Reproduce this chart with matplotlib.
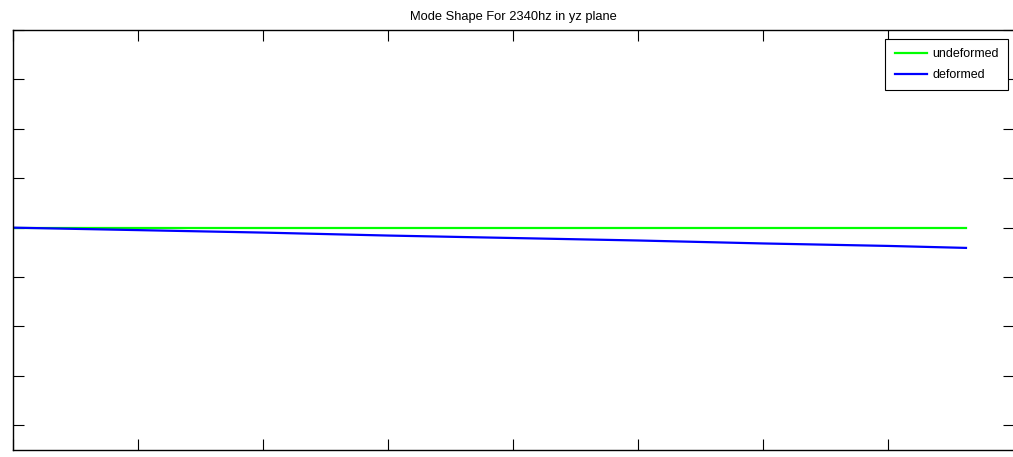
import matplotlib
matplotlib.use("Agg")
import matplotlib.pyplot as plt
import numpy as np

# beam positions along the span
x = np.array([0, 1, 2, 3, 4, 5, 6, 7, 7.62])

# undeformed shape
y_undeformed = np.array([0, 0, 0, 0, 0, 0, 0, 0, 0])

# deformed shape (yz plane, 2340 hz)
y_deformed = np.array([0, -0.05, -0.1, -0.16, -0.21, -0.26, -0.32, -0.37, -0.41])

plt.rcParams['font.family'] = ['Liberation Sans', 'DejaVu Sans']

fig = plt.figure(figsize=(10.13, 4.57), dpi=100)
ax = fig.add_axes([13 / 1013, 7 / 457, 1000.5 / 1013, 420 / 457])

ax.plot(x, y_undeformed, color=(0, 1, 0), lw=1.6, label='undeformed')
ax.plot(x, y_deformed, color=(0, 0, 1), lw=1.6, label='deformed')

ax.set_xlim(0, 8)
ax.set_ylim(-4.5, 4)
ax.set_xticks(np.arange(0, 9, 1))
ax.set_yticks(np.arange(-4, 5, 1))
ax.set_xticklabels([])
ax.set_yticklabels([])
ax.tick_params(direction='in', length=8, width=0.8, top=True, right=True)
for s in ax.spines.values():
    s.set_linewidth(1.0)

ax.set_title('Mode Shape For 2340hz in yz plane', fontsize=9.3, pad=7)

leg = ax.legend(loc='upper right', bbox_to_anchor=(0.9945, 0.9786),
                fontsize=9, fancybox=False, framealpha=1,
                edgecolor='black', borderaxespad=0, handlelength=2.6,
                handletextpad=0.4, borderpad=0.75, labelspacing=0.7)
leg.get_frame().set_linewidth(0.8)

fig.savefig('out.png', dpi=100)
